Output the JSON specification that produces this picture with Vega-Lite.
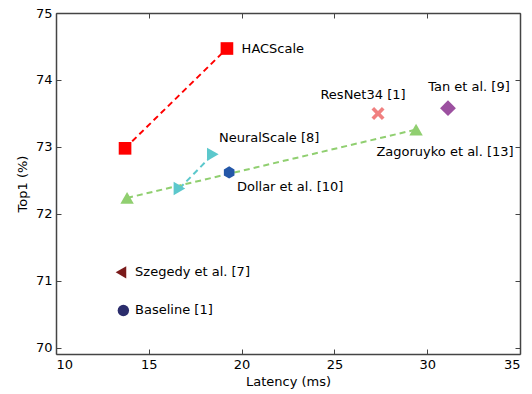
{
  "$schema": "https://vega.github.io/schema/vega-lite/v6.json",
  "width": 464,
  "height": 341,
  "autosize": "none",
  "padding": {"left": 56, "top": 13, "right": 12, "bottom": 40},
  "config": {
    "view": {"stroke": null},
    "font": "DejaVu Sans",
    "axis": {
      "grid": false,
      "domainColor": "#444444",
      "domainWidth": 1.5,
      "tickColor": "#444444",
      "tickWidth": 1,
      "tickSize": -5,
      "labelFont": "DejaVu Sans",
      "labelFontSize": 13,
      "labelColor": "#000000",
      "titleFont": "DejaVu Sans",
      "titleFontSize": 13,
      "titleFontWeight": "normal",
      "titleColor": "#000000"
    }
  },
  "datasets": {
    "pts": [
      {"method": "HACScale", "latency": 13.72, "top1": 72.98},
      {"method": "HACScale", "latency": 19.21, "top1": 74.47},
      {"method": "NeuralScale", "latency": 16.65, "top1": 72.38},
      {"method": "NeuralScale", "latency": 18.45, "top1": 72.89},
      {"method": "Zagoruyko", "latency": 13.83, "top1": 72.24},
      {"method": "Zagoruyko", "latency": 29.4, "top1": 73.26},
      {"method": "Dollar", "latency": 19.33, "top1": 72.62},
      {"method": "ResNet34", "latency": 27.35, "top1": 73.5},
      {"method": "Tan", "latency": 31.12, "top1": 73.58},
      {"method": "Szegedy", "latency": 13.5, "top1": 71.13},
      {"method": "Baseline", "latency": 13.63, "top1": 70.56}
    ],
    "labels": [
      {"text": "HACScale", "latency": 20.0, "top1": 74.47, "align": "left"},
      {"text": "NeuralScale [8]", "latency": 18.78, "top1": 73.14, "align": "left"},
      {"text": "Dollar et al. [10]", "latency": 19.75, "top1": 72.41, "align": "left"},
      {"text": "Szegedy et al. [7]", "latency": 14.26, "top1": 71.13, "align": "left"},
      {"text": "Baseline [1]", "latency": 14.26, "top1": 70.56, "align": "left"},
      {"text": "ResNet34 [1]", "latency": 26.54, "top1": 73.78, "align": "center"},
      {"text": "Tan et al. [9]", "latency": 32.25, "top1": 73.9, "align": "center"},
      {"text": "Zagoruyko et al. [13]", "latency": 30.96, "top1": 72.93, "align": "center"}
    ]
  },
  "layer": [
    {
      "data": {"name": "pts"},
      "transform": [{"filter": "datum.method === 'HACScale' || datum.method === 'NeuralScale' || datum.method === 'Zagoruyko'"}],
      "mark": {"type": "line", "strokeDash": [6, 4], "strokeWidth": 2},
      "encoding": {
        "x": {"field": "latency", "type": "quantitative", "scale": {"domain": [10, 35], "nice": false, "zero": false},
              "axis": {"orient": "top", "labels": false, "title": null, "values": [10, 15, 20, 25, 30, 35]}},
        "y": {"field": "top1", "type": "quantitative", "scale": {"domain": [69.91, 75], "nice": false, "zero": false},
              "axis": {"orient": "right", "labels": false, "title": null, "values": [70, 71, 72, 73, 74, 75]}},
        "detail": {"field": "method"},
        "color": {"field": "method", "type": "nominal", "legend": null,
                  "scale": {"domain": ["HACScale", "NeuralScale", "Zagoruyko", "Dollar", "ResNet34", "Tan", "Szegedy", "Baseline"],
                            "range": ["#ff0000", "#5cc8cc", "#90cf70", "#2457a8", "#f08080", "#9c50a0", "#7a1a1a", "#2b2d6c"]}}
      }
    },
    {
      "data": {"name": "pts"},
      "mark": {"type": "point", "filled": true, "opacity": 1},
      "encoding": {
        "x": {"field": "latency", "type": "quantitative",
              "axis": {"orient": "bottom", "title": "Latency (ms)", "values": [10, 15, 20, 25, 30, 35], "labelPadding": 9, "titlePadding": 4}},
        "y": {"field": "top1", "type": "quantitative",
              "axis": {"orient": "left", "title": "Top1 (%)", "values": [70, 71, 72, 73, 74, 75], "labelPadding": 9, "titlePadding": 6}},
        "color": {"field": "method", "type": "nominal", "legend": null},
        "shape": {"field": "method", "type": "nominal", "legend": null,
                  "scale": {"domain": ["HACScale", "NeuralScale", "Zagoruyko", "Dollar", "ResNet34", "Tan", "Szegedy", "Baseline"],
                            "range": ["square", "triangle-right", "triangle-up", "M0,-1L0.866,-0.5L0.866,0.5L0,1L-0.866,0.5L-0.866,-0.5Z",
                                      "M-1,-0.6L-0.6,-1L0,-0.4L0.6,-1L1,-0.6L0.4,0L1,0.6L0.6,1L0,0.4L-0.6,1L-1,0.6L-0.4,0Z",
                                      "diamond", "triangle-left", "circle"]}},
        "size": {"field": "method", "type": "nominal", "legend": null,
                 "scale": {"type": "ordinal",
                           "domain": ["HACScale", "NeuralScale", "Zagoruyko", "Dollar", "ResNet34", "Tan", "Szegedy", "Baseline"],
                           "range": [160, 180, 180, 150, 170, 250, 150, 130]}}
      }
    },
    {
      "data": {"name": "labels"},
      "transform": [{"filter": "datum.align === 'left'"}],
      "mark": {"type": "text", "align": "left", "baseline": "middle", "fontSize": 13, "font": "DejaVu Sans", "color": "#000000"},
      "encoding": {
        "x": {"field": "latency", "type": "quantitative", "axis": null},
        "y": {"field": "top1", "type": "quantitative", "axis": null},
        "text": {"field": "text"}
      }
    },
    {
      "data": {"name": "labels"},
      "transform": [{"filter": "datum.align === 'center'"}],
      "mark": {"type": "text", "align": "center", "baseline": "middle", "fontSize": 13, "font": "DejaVu Sans", "color": "#000000"},
      "encoding": {
        "x": {"field": "latency", "type": "quantitative", "axis": null},
        "y": {"field": "top1", "type": "quantitative", "axis": null},
        "text": {"field": "text"}
      }
    }
  ],
  "resolve": {"axis": {"x": "independent", "y": "independent"}}
}
